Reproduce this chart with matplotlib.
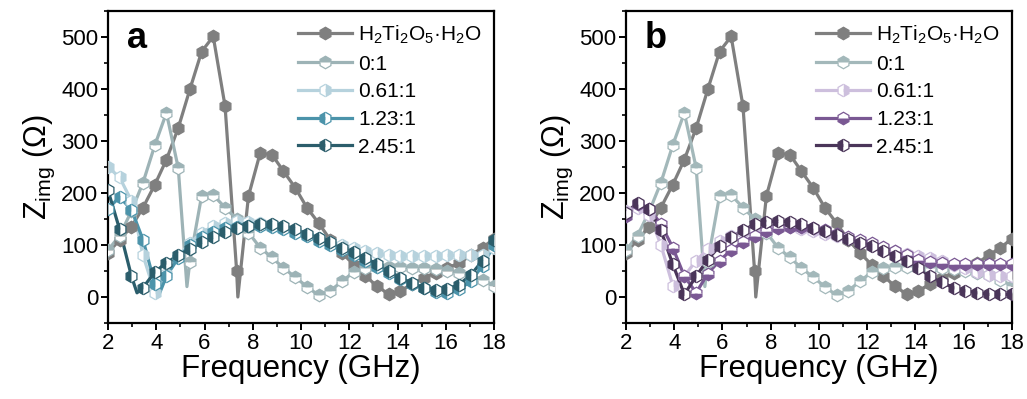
import numpy as np
import matplotlib
matplotlib.use('Agg')
import matplotlib.pyplot as plt

plt.rcParams['font.family'] = ['Liberation Sans', 'DejaVu Sans']
plt.rcParams['mathtext.fontset'] = 'custom'
plt.rcParams['mathtext.rm'] = 'Liberation Sans'
plt.rcParams['mathtext.it'] = 'Liberation Sans:italic'
plt.rcParams['mathtext.bf'] = 'Liberation Sans:bold'

# ---------------- data ----------------
freq = [2.00, 2.48, 2.97, 3.45, 3.94, 4.42, 4.91, 5.39, 5.88, 6.36, 6.85, 7.33,
        7.82, 8.30, 8.79, 9.27, 9.76, 10.24, 10.73, 11.21, 11.70, 12.18, 12.67,
        13.15, 13.64, 14.12, 14.61, 15.09, 15.58, 16.06, 16.55, 17.03, 17.52, 18.00]

labels = [r'H$_2$Ti$_2$O$_5$·H$_2$O', '0:1', '0.61:1', '1.23:1', '2.45:1']

h2ti2o5 = [85, 110, 135, 172, 216, 264, 325, 399, 472, 501, 367, 50, 194, 276, 274,
           242, 210, 172, 142, 110, 85, 62, 40, 21, 5, 12, 25, 37, 47, 56, 65, 80, 95, 112]
h2ti2o5_dip_x = [7.38]
h2ti2o5_dip_y = [0]

r0_1 = [90, 118, 165, 220, 292, 354, 248, 68, 195, 196, 172, 150, 124, 95, 76, 56, 38,
        20, 3, 12, 30, 48, 56, 58, 58, 57, 56, 55, 53, 50, 47, 42, 33, 22]
r0_1_dip_x = [5.27]
r0_1_dip_y = [20]

a_061 = [250, 230, 185, 80, 8, 45, 78, 104, 124, 136, 143, 146, 145, 142, 138, 132, 126,
         120, 113, 106, 100, 94, 88, 84, 80, 79, 79, 79, 79, 80, 80, 80, 80, 95]
a_123 = [170, 192, 168, 110, 25, 40, 75, 100, 115, 125, 132, 135, 137, 137, 135, 130,
         124, 117, 108, 100, 90, 80, 70, 58, 46, 35, 25, 17, 10, 8, 15, 30, 60, 100]
a_123_dip_x = [4.1]
a_123_dip_y = [3]
a_245 = [205, 130, 40, 18, 48, 66, 80, 92, 105, 115, 125, 133, 137, 140, 140, 136, 130,
         122, 113, 105, 95, 86, 75, 63, 50, 37, 26, 18, 14, 15, 24, 42, 70, 110]
a_245_dip_x = [3.2]
a_245_dip_y = [8]

b_061 = [165, 172, 158, 100, 22, 40, 70, 92, 108, 118, 125, 130, 133, 135, 134, 131, 127,
         122, 117, 112, 106, 100, 94, 88, 82, 78, 75, 70, 62, 55, 48, 43, 40, 40]
b_123 = [155, 178, 170, 140, 95, 40, 8, 45, 70, 90, 105, 118, 126, 132, 134, 134, 132,
         128, 122, 116, 110, 103, 96, 88, 80, 72, 67, 65, 64, 64, 64, 64, 64, 64]
b_245 = [162, 181, 170, 128, 63, 5, 40, 72, 98, 116, 128, 140, 145, 146, 144, 140, 133,
         127, 120, 112, 104, 98, 88, 79, 69, 56, 40, 28, 18, 12, 8, 5, 5, 5]

xticks = [2, 4, 6, 8, 10, 12, 14, 16, 18]
yticks = [0, 100, 200, 300, 400, 500]

# ---------------- styles ----------------
gray = '#7f7f7f'
c01_a = '#9db3b6'
c01_b = '#a3b8ba'
panels = [
    dict(tag='a', left=0.1052,
         series=[(h2ti2o5, h2ti2o5_dip_x, h2ti2o5_dip_y, gray, 'full'),
                 (r0_1, r0_1_dip_x, r0_1_dip_y, c01_a, 'top'),
                 (a_061, [], [], '#b6d2dd', 'right'),
                 (a_123, a_123_dip_x, a_123_dip_y, '#4b93aa', 'left'),
                 (a_245, a_245_dip_x, a_245_dip_y, '#2b5d6b', 'left')]),
    dict(tag='b', left=0.6095,
         series=[(h2ti2o5, h2ti2o5_dip_x, h2ti2o5_dip_y, gray, 'full'),
                 (r0_1, r0_1_dip_x, r0_1_dip_y, c01_b, 'top'),
                 (b_061, [], [], '#cdbfdd', 'right'),
                 (b_123, [], [], '#7a5893', 'bottom'),
                 (b_245, [], [], '#4a3559', 'left')]),
]

fig = plt.figure(figsize=(10.27, 3.99), dpi=100)

for p in panels:
    ax = fig.add_axes([p['left'], 0.1905, 0.3759, 0.782])
    for (vals, dx, dy, col, fs), lab in zip(p['series'], labels):
        lx = list(freq) + list(dx)
        ly = list(vals) + list(dy)
        order = np.argsort(lx)
        lx = np.array(lx)[order]
        ly = np.array(ly)[order]
        ax.plot(lx, ly, '-', color=col, lw=2.3, zorder=2)
        ax.plot(freq, vals, linestyle='none', marker='h', ms=9,
                color=col, fillstyle=fs, markerfacecoloralt='white',
                markeredgecolor=col, markeredgewidth=0.9, zorder=3)
        ax.plot([], [], '-', color=col, lw=2.3, marker='h', ms=9, fillstyle=fs,
                markerfacecoloralt='white', markeredgecolor=col,
                markeredgewidth=0.9, label=lab)
    ax.set_xlim(2, 18)
    ax.set_ylim(-50, 550)
    ax.set_xticks(xticks)
    ax.set_yticks(yticks)
    ax.set_xticks(np.arange(3, 18, 2), minor=True)
    ax.set_yticks(np.arange(-50, 551, 100), minor=True)
    ax.tick_params(axis='both', which='major', direction='out', length=5,
                   width=1.4, labelsize=16, pad=2)
    ax.tick_params(axis='both', which='minor', direction='out', length=3,
                   width=1.2)
    ax.tick_params(top=False, right=False, which='both')
    for s in ax.spines.values():
        s.set_linewidth(1.6)
    ax.set_xlabel('Frequency (GHz)', fontsize=22.5, labelpad=0)
    ax.set_ylabel(r'Z$_{\mathregular{img}}$ ($\Omega$)', fontsize=22, labelpad=3)
    ax.text(0.048, 0.88, p['tag'], transform=ax.transAxes, fontsize=26,
            fontweight='bold', ha='left', va='baseline')
    ax.legend(loc='upper right', frameon=False, fontsize=15, handlelength=2.6,
              labelspacing=0.42, handletextpad=0.3, borderaxespad=0.3,
              borderpad=0.3, numpoints=1)

fig.savefig('out.png', dpi=100)
